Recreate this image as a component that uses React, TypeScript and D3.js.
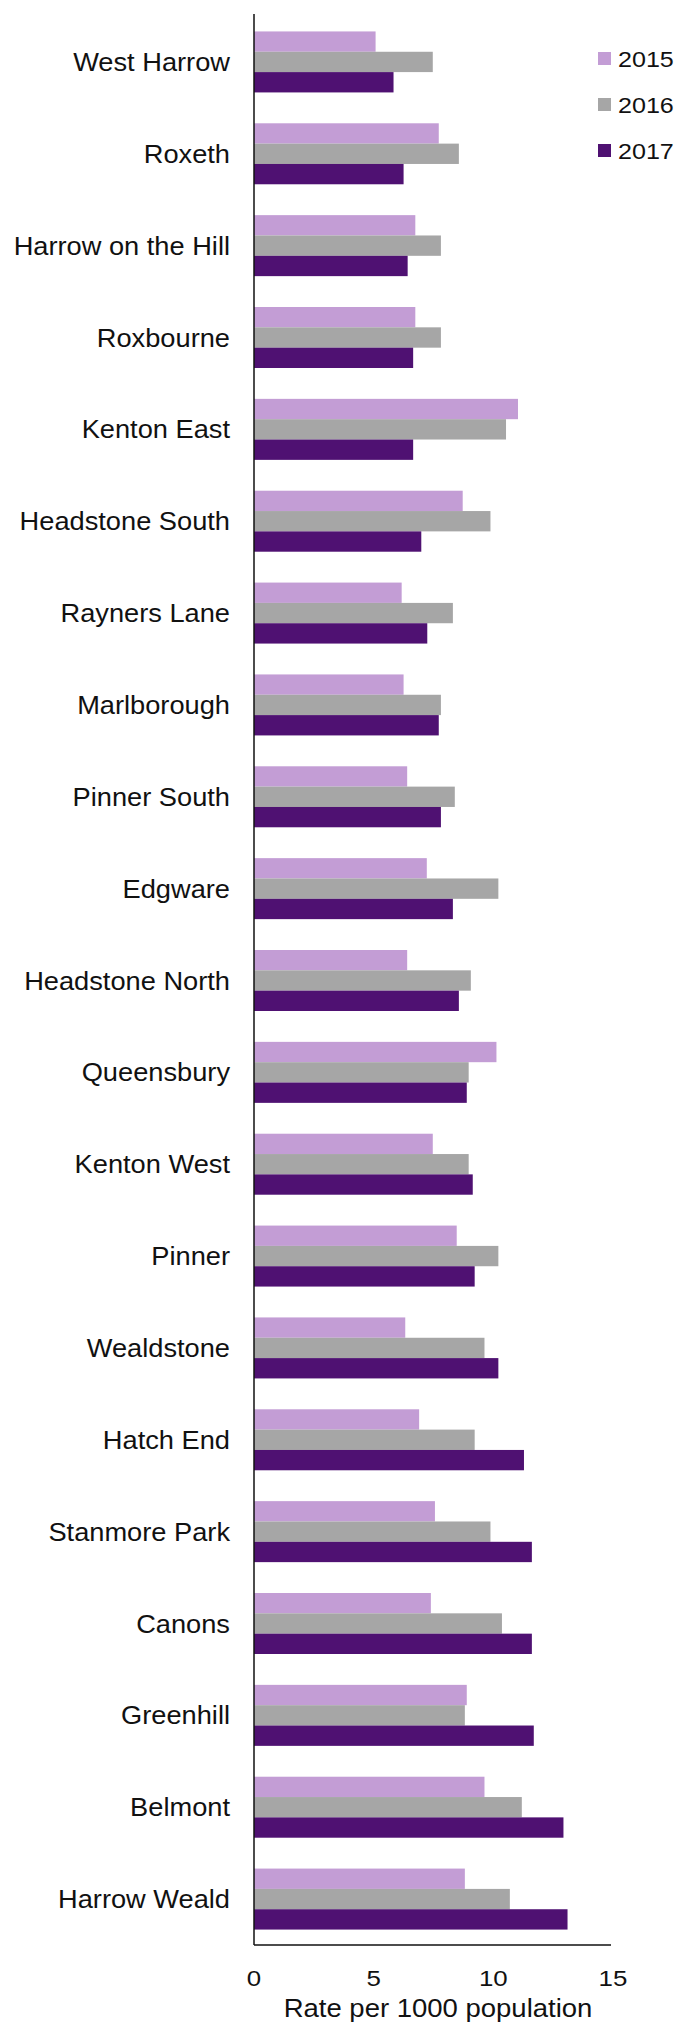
import React from "react";
import * as d3 from "d3";

const categories = [
  "West Harrow", "Roxeth", "Harrow on the Hill", "Roxbourne", "Kenton East",
  "Headstone South", "Rayners Lane", "Marlborough", "Pinner South", "Edgware",
  "Headstone North", "Queensbury", "Kenton West", "Pinner", "Wealdstone",
  "Hatch End", "Stanmore Park", "Canons", "Greenhill", "Belmont", "Harrow Weald",
];
const series = ["2015", "2016", "2017"];
const values2015 = [5.08, 7.72, 6.74, 6.74, 11.03, 8.72, 6.17, 6.25, 6.4, 7.22, 6.4, 10.13, 7.47, 8.47, 6.32, 6.9, 7.56, 7.39, 8.89, 9.63, 8.81];
const values2016 = [7.47, 8.56, 7.81, 7.81, 10.53, 9.88, 8.31, 7.81, 8.39, 10.21, 9.06, 8.97, 8.97, 10.21, 9.63, 9.22, 9.88, 10.36, 8.81, 11.19, 10.69];
const values2017 = [5.83, 6.25, 6.42, 6.65, 6.65, 6.99, 7.24, 7.72, 7.81, 8.31, 8.56, 8.89, 9.14, 9.22, 10.21, 11.28, 11.61, 11.61, 11.69, 12.93, 13.1];
const xTicks = [0, 5, 10, 15];
const colors = ["#C39DD5", "#A6A6A6", "#4F1172"];
const axisTitle = "Rate per 1000 population";

function SText(props: { x: number; y: number; size: number; sx: number; anchor?: string; children: React.ReactNode }) {
  const { x, y, size, sx, anchor, children } = props;
  return (
    <text
      transform={`translate(${x},${y}) scale(${sx},1)`}
      textAnchor={anchor || "start"}
      fontSize={size}
      fill="#111"
    >
      {children}
    </text>
  );
}

export default function App() {
  const W = 680, H = 2024;
  const x = d3.scaleLinear().domain([0, 15]).range([254, 613]);
  const y = d3.scaleBand().domain(categories).range([16, 1945]).paddingInner(0.336).paddingOuter(0.168);
  const yi = d3.scaleBand().domain(series).range([0, y.bandwidth()]);
  const allValues = [values2015, values2016, values2017];
  const font = "'Liberation Sans', Arial, sans-serif";
  return (
    <svg width={W} height={H} style={{ position: "absolute", left: 0, top: 0 }} fontFamily={font}>
      <rect width={W} height={H} fill="#fff" />
      {categories.map((c, ci) => (
        <g key={c}>
          {series.map((s, si) => (
            <rect
              key={s}
              x={x(0)}
              y={(y(c) as number) + (yi(s) as number)}
              width={x(allValues[si][ci]) - x(0)}
              height={yi.bandwidth()}
              fill={colors[si]}
            />
          ))}
          <SText x={230} y={(y(c) as number) + y.bandwidth() / 2 + 9} size={25} sx={1.09} anchor="end">
            {c}
          </SText>
        </g>
      ))}
      <line x1={x(0)} x2={x(0)} y1={14} y2={1945} stroke="#111" strokeWidth={1.5} />
      <line x1={x(0)} x2={611} y1={1945} y2={1945} stroke="#111" strokeWidth={1.5} />
      {xTicks.map((t) => (
        <SText key={t} x={x(t)} y={1986} size={22.5} sx={1.15} anchor="middle">
          {t}
        </SText>
      ))}
      <SText x={438} y={2017} size={25} sx={1.1} anchor="middle">
        {axisTitle}
      </SText>
      {series.map((s, si) => (
        <g key={s}>
          <rect x={598} y={52 + si * 46} width={13} height={13} fill={colors[si]} />
          <SText x={618} y={58.5 + si * 46 + 8} size={22} sx={1.14}>
            {s}
          </SText>
        </g>
      ))}
    </svg>
  );
}
